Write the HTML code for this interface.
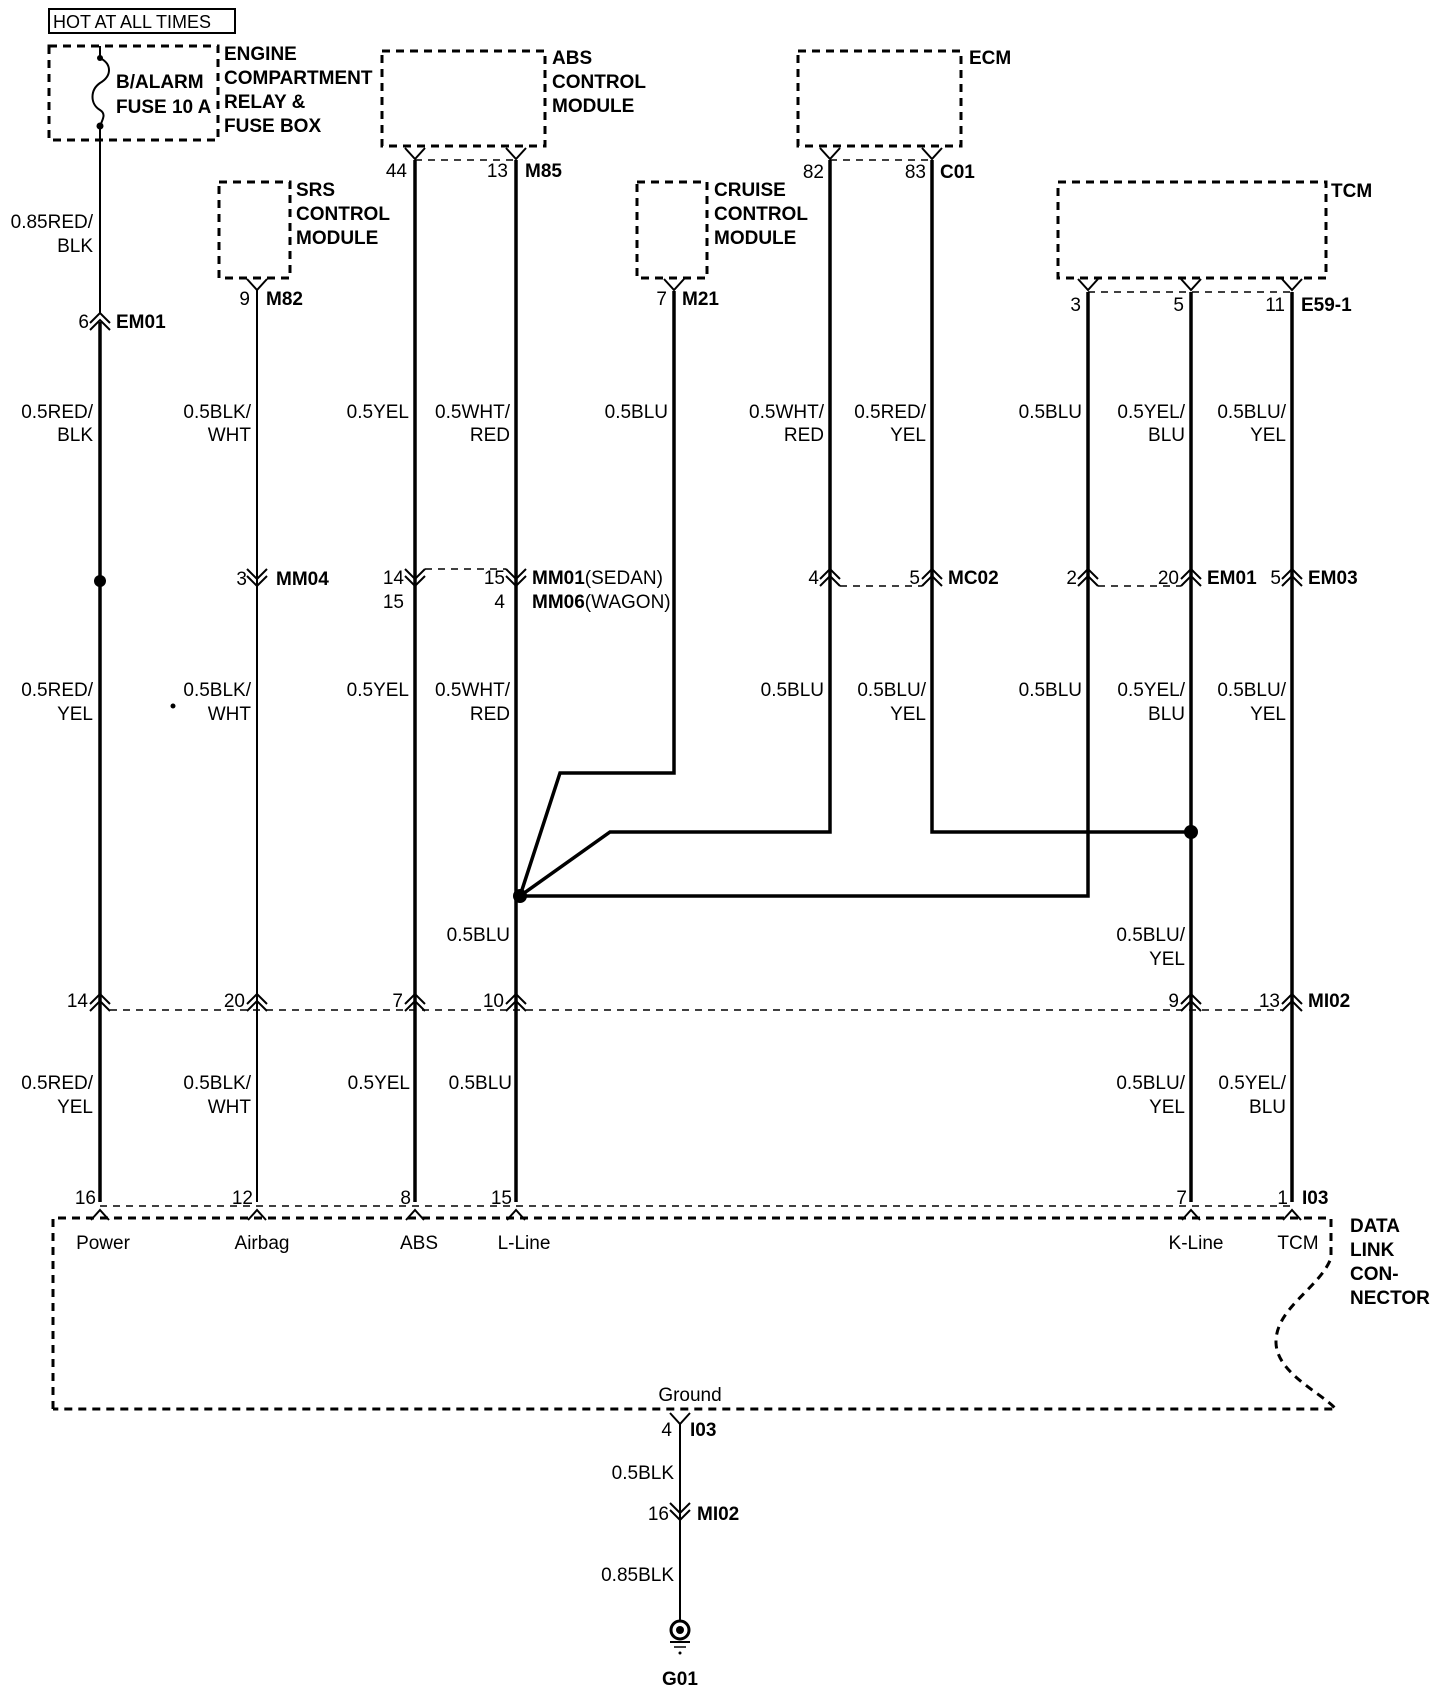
<!DOCTYPE html>
<html><head><meta charset="utf-8"><style>
html,body{margin:0;padding:0;background:#fff;}
svg{display:block;}
text{font-family:"Liberation Sans",sans-serif;font-size:19px;fill:#000;}
.b{font-weight:bold;}
.r{text-anchor:end;}
.m{text-anchor:middle;}
.w{stroke:#000;stroke-width:3.5;fill:none;}
.t{stroke:#000;stroke-width:2;fill:none;}
.d{stroke:#000;stroke-width:3;fill:none;stroke-dasharray:8,6;}
.dt{stroke:#000;stroke-width:1.6;fill:none;stroke-dasharray:7,6;}
</style></head><body>
<svg width="1440" height="1690" viewBox="0 0 1440 1690" xmlns="http://www.w3.org/2000/svg">
<defs>
<g id="vf"><path d="M-10,-11 L0,0 L10,-11" class="t"/></g>
<g id="up2"><path d="M-10,9 L0,-1 L10,9 M-10,16 L0,6 L10,16" class="t"/></g>
<g id="dn2"><path d="M-10,-9 L0,1 L10,-9 M-10,-16 L0,-6 L10,-16" class="t"/></g>
<g id="up1"><path d="M-9,9 L0,-1 L9,9" class="t"/></g>
</defs>

<rect x="49" y="9" width="186" height="24" fill="none" stroke="#000" stroke-width="2"/>
<text x="53" y="28" style="font-size:18px">HOT AT ALL TIMES</text>

<rect x="49" y="46" width="169" height="94" class="d"/>
<path d="M100,46 L100,58 C112,64 112,76 100,83 C90,90 90,104 100,110 C108,115 100,122 100,128 L100,140" class="t"/>
<circle cx="100" cy="58" r="3"/><circle cx="100" cy="126" r="3.5"/>
<text x="116" y="88" class="b">B/ALARM</text>
<text x="116" y="113" class="b">FUSE 10 A</text>
<text x="224" y="60" class="b">ENGINE</text>
<text x="224" y="84" class="b">COMPARTMENT</text>
<text x="224" y="108" class="b">RELAY &amp;</text>
<text x="224" y="132" class="b">FUSE BOX</text>

<rect x="382" y="51" width="163" height="95" class="d"/>
<text x="552" y="64" class="b">ABS</text>
<text x="552" y="88" class="b">CONTROL</text>
<text x="552" y="112" class="b">MODULE</text>
<use href="#vf" x="415" y="159"/><use href="#vf" x="516" y="159"/>
<line x1="415" y1="160" x2="516" y2="160" class="dt"/>
<text x="407" y="177" class="r">44</text><text x="508" y="177" class="r">13</text><text x="525" y="177" class="b">M85</text>

<rect x="798" y="51" width="163" height="95" class="d"/>
<text x="969" y="64" class="b">ECM</text>
<use href="#vf" x="830" y="159"/><use href="#vf" x="932" y="159"/>
<line x1="830" y1="160" x2="932" y2="160" class="dt"/>
<text x="824" y="178" class="r">82</text><text x="926" y="178" class="r">83</text><text x="940" y="178" class="b">C01</text>

<rect x="219" y="182" width="71" height="96" class="d"/>
<text x="296" y="196" class="b">SRS</text>
<text x="296" y="220" class="b">CONTROL</text>
<text x="296" y="244" class="b">MODULE</text>
<use href="#vf" x="257" y="290"/>
<text x="250" y="305" class="r">9</text><text x="266" y="305" class="b">M82</text>

<rect x="637" y="182" width="70" height="96" class="d"/>
<text x="714" y="196" class="b">CRUISE</text>
<text x="714" y="220" class="b">CONTROL</text>
<text x="714" y="244" class="b">MODULE</text>
<use href="#vf" x="674" y="290"/>
<text x="667" y="305" class="r">7</text><text x="682" y="305" class="b">M21</text>

<rect x="1058" y="182" width="268" height="96" class="d"/>
<text x="1331" y="197" class="b">TCM</text>
<use href="#vf" x="1088" y="290"/><use href="#vf" x="1191" y="290"/><use href="#vf" x="1292" y="290"/>
<line x1="1088" y1="292" x2="1292" y2="292" class="dt"/>
<text x="1081" y="311" class="r">3</text><text x="1184" y="311" class="r">5</text><text x="1285" y="311" class="r">11</text><text x="1301" y="311" class="b">E59-1</text>

<line x1="100" y1="140" x2="100" y2="314" class="t"/>
<use href="#up2" x="100" y="314"/>
<line x1="100" y1="322" x2="100" y2="1202" class="w"/>
<circle cx="100" cy="581" r="6"/>
<text x="89" y="328" class="r">6</text><text x="116" y="328" class="b">EM01</text>
<text x="93" y="228" class="r">0.85RED/</text><text x="93" y="252" class="r">BLK</text>
<text x="93" y="418" class="r">0.5RED/</text><text x="93" y="441" class="r">BLK</text>
<text x="93" y="696" class="r">0.5RED/</text><text x="93" y="720" class="r">YEL</text>

<line x1="257" y1="290" x2="257" y2="1202" class="t"/>
<use href="#dn2" x="257" y="585"/>
<text x="247" y="585" class="r">3</text><text x="276" y="585" class="b">MM04</text>
<text x="251" y="418" class="r">0.5BLK/</text><text x="251" y="441" class="r">WHT</text>
<text x="251" y="696" class="r">0.5BLK/</text><text x="251" y="720" class="r">WHT</text>
<circle cx="173" cy="706" r="2.5"/>

<line x1="415" y1="160" x2="415" y2="1202" class="w"/>
<line x1="516" y1="160" x2="516" y2="1202" class="w"/>
<use href="#dn2" x="415" y="585"/><use href="#dn2" x="516" y="585"/>
<line x1="425" y1="569" x2="506" y2="569" class="dt"/>
<text x="404" y="584" class="r">14</text><text x="404" y="608" class="r">15</text>
<text x="505" y="584" class="r">15</text><text x="505" y="608" class="r">4</text>
<text x="532" y="584"><tspan class="b">MM01</tspan>(SEDAN)</text>
<text x="532" y="608"><tspan class="b">MM06</tspan>(WAGON)</text>
<text x="409" y="418" class="r">0.5YEL</text>
<text x="510" y="418" class="r">0.5WHT/</text><text x="510" y="441" class="r">RED</text>
<text x="409" y="696" class="r">0.5YEL</text>
<text x="510" y="696" class="r">0.5WHT/</text><text x="510" y="720" class="r">RED</text>
<text x="510" y="941" class="r">0.5BLU</text>

<polyline points="674,291 674,773 560,773 520,896" class="w"/>
<text x="668" y="418" class="r">0.5BLU</text>

<polyline points="830,160 830,832 610,832 520,896" class="w"/>
<polyline points="932,160 932,832 1191,832" class="w"/>
<use href="#up2" x="830" y="570"/><use href="#up2" x="932" y="570"/>
<line x1="840" y1="586" x2="922" y2="586" class="dt"/>
<text x="819" y="584" class="r">4</text><text x="920" y="584" class="r">5</text><text x="948" y="584" class="b">MC02</text>
<text x="824" y="418" class="r">0.5WHT/</text><text x="824" y="441" class="r">RED</text>
<text x="926" y="418" class="r">0.5RED/</text><text x="926" y="441" class="r">YEL</text>
<text x="824" y="696" class="r">0.5BLU</text>
<text x="926" y="696" class="r">0.5BLU/</text><text x="926" y="720" class="r">YEL</text>

<polyline points="1088,292 1088,896 520,896" class="w"/>
<line x1="1191" y1="292" x2="1191" y2="1202" class="w"/>
<line x1="1292" y1="292" x2="1292" y2="1202" class="w"/>
<circle cx="520" cy="896" r="7"/>
<circle cx="1191" cy="832" r="7"/>
<use href="#up2" x="1088" y="570"/><use href="#up2" x="1191" y="570"/><use href="#up2" x="1292" y="570"/>
<line x1="1098" y1="586" x2="1181" y2="586" class="dt"/>
<text x="1077" y="584" class="r">2</text><text x="1179" y="584" class="r">20</text><text x="1207" y="584" class="b">EM01</text>
<text x="1281" y="584" class="r">5</text><text x="1308" y="584" class="b">EM03</text>
<text x="1082" y="418" class="r">0.5BLU</text>
<text x="1185" y="418" class="r">0.5YEL/</text><text x="1185" y="441" class="r">BLU</text>
<text x="1286" y="418" class="r">0.5BLU/</text><text x="1286" y="441" class="r">YEL</text>
<text x="1082" y="696" class="r">0.5BLU</text>
<text x="1185" y="696" class="r">0.5YEL/</text><text x="1185" y="720" class="r">BLU</text>
<text x="1286" y="696" class="r">0.5BLU/</text><text x="1286" y="720" class="r">YEL</text>
<text x="1185" y="941" class="r">0.5BLU/</text><text x="1185" y="965" class="r">YEL</text>

<use href="#up2" x="100" y="995"/><use href="#up2" x="257" y="995"/><use href="#up2" x="415" y="995"/>
<use href="#up2" x="516" y="995"/><use href="#up2" x="1191" y="995"/><use href="#up2" x="1292" y="995"/>
<line x1="110" y1="1010" x2="1282" y2="1010" class="dt"/>
<text x="88" y="1007" class="r">14</text><text x="245" y="1007" class="r">20</text><text x="403" y="1007" class="r">7</text>
<text x="504" y="1007" class="r">10</text><text x="1179" y="1007" class="r">9</text><text x="1280" y="1007" class="r">13</text>
<text x="1308" y="1007" class="b">MI02</text>
<text x="93" y="1089" class="r">0.5RED/</text><text x="93" y="1113" class="r">YEL</text>
<text x="251" y="1089" class="r">0.5BLK/</text><text x="251" y="1113" class="r">WHT</text>
<text x="410" y="1089" class="r">0.5YEL</text>
<text x="512" y="1089" class="r">0.5BLU</text>
<text x="1185" y="1089" class="r">0.5BLU/</text><text x="1185" y="1113" class="r">YEL</text>
<text x="1286" y="1089" class="r">0.5YEL/</text><text x="1286" y="1113" class="r">BLU</text>

<line x1="100" y1="1206" x2="1292" y2="1206" class="dt"/>
<use href="#up1" x="100" y="1211"/><use href="#up1" x="257" y="1211"/><use href="#up1" x="415" y="1211"/>
<use href="#up1" x="516" y="1211"/><use href="#up1" x="1191" y="1211"/><use href="#up1" x="1292" y="1211"/>
<text x="96" y="1204" class="r">16</text><text x="253" y="1204" class="r">12</text><text x="411" y="1204" class="r">8</text>
<text x="512" y="1204" class="r">15</text><text x="1187" y="1204" class="r">7</text><text x="1288" y="1204" class="r">1</text>
<text x="1302" y="1204" class="b">I03</text>
<path d="M53,1409 L53,1218 L1331,1218 L1331,1258 C1320,1288 1275,1308 1276,1343 C1277,1373 1320,1392 1336,1409 L53,1409" class="d"/>
<text x="103" y="1249" class="m">Power</text>
<text x="262" y="1249" class="m">Airbag</text>
<text x="419" y="1249" class="m">ABS</text>
<text x="524" y="1249" class="m">L-Line</text>
<text x="1196" y="1249" class="m">K-Line</text>
<text x="1298" y="1249" class="m">TCM</text>
<text x="1350" y="1232" class="b">DATA</text>
<text x="1350" y="1256" class="b">LINK</text>
<text x="1350" y="1280" class="b">CON-</text>
<text x="1350" y="1304" class="b">NECTOR</text>
<text x="690" y="1401" class="m">Ground</text>

<use href="#vf" x="680" y="1424"/>
<line x1="680" y1="1424" x2="680" y2="1622" class="t"/>
<text x="672" y="1436" class="r">4</text><text x="690" y="1436" class="b">I03</text>
<text x="674" y="1479" class="r">0.5BLK</text>
<use href="#dn2" x="680" y="1519"/>
<text x="669" y="1520" class="r">16</text><text x="697" y="1520" class="b">MI02</text>
<text x="674" y="1581" class="r">0.85BLK</text>
<circle cx="680" cy="1630" r="9" fill="none" stroke="#000" stroke-width="3"/>
<circle cx="680" cy="1630" r="4"/>
<line x1="670" y1="1642" x2="690" y2="1642" stroke="#000" stroke-width="2"/>
<line x1="674" y1="1647" x2="686" y2="1647" stroke="#000" stroke-width="1.5"/>
<circle cx="680" cy="1653" r="1.5"/>
<text x="680" y="1685" class="m b">G01</text>
</svg>
</body></html>
